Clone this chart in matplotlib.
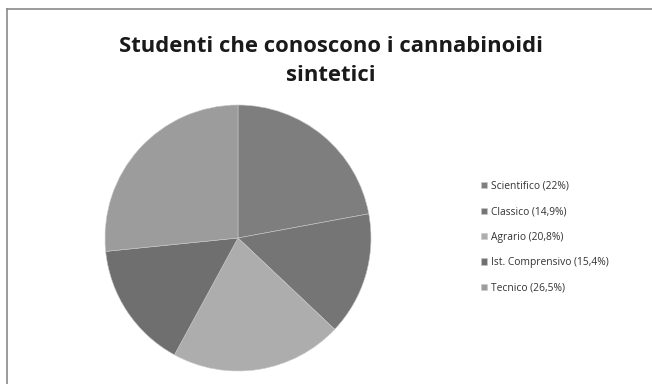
import matplotlib.pyplot as plt
from matplotlib.lines import Line2D

labels = ['Scientifico (22%)', 'Classico (14,9%)', 'Agrario (20,8%)',
          'Ist. Comprensivo (15,4%)', 'Tecnico (26,5%)']
values = [22, 14.9, 20.8, 15.4, 26.5]
colors = ['#7e7e7e', '#757575', '#adadad', '#6f6f6f', '#9c9c9c']

plt.rcParams['font.family'] = ['Open Sans', 'DejaVu Sans']

fig = plt.figure(figsize=(6.52, 3.84), dpi=100)

# pie centred at about (238, 238) px, radius ~133 px
cx, cy, r = 238 / 652, 1 - 238 / 384, 133
ax = fig.add_axes([cx - r / 652, cy - r / 384, 2 * r / 652, 2 * r / 384])
wedges, _ = ax.pie(values, colors=colors, startangle=90, counterclock=False,
                   wedgeprops=dict(edgecolor='#c8c8c8', linewidth=0.4))
ax.set_xlim(-1, 1)
ax.set_ylim(-1, 1)
ax.set_aspect('auto')

fig.text(0.508, 1 - 61 / 384, 'Studenti che conoscono i cannabinoidi\nsintetici',
         ha='center', va='center', fontsize=15.8, fontweight='bold',
         color='#1a1a1a', linespacing=1.5)

fig.legend(wedges, labels, loc='upper left', bbox_to_anchor=(0.724, 0.553),
           frameon=False, fontsize=7.4, handlelength=0.55, handleheight=0.55,
           handletextpad=0.35, labelspacing=1.4, labelcolor='#333333')

# frame lines at top and left like the cropped screenshot
fig.add_artist(Line2D([7 / 652, 1], [1 - 9 / 384, 1 - 9 / 384],
                      color='#8a8a8a', linewidth=1.2))
fig.add_artist(Line2D([7 / 652, 7 / 652], [0, 1 - 9 / 384],
                      color='#8a8a8a', linewidth=1.2))

fig.savefig('out.png', dpi=100)
